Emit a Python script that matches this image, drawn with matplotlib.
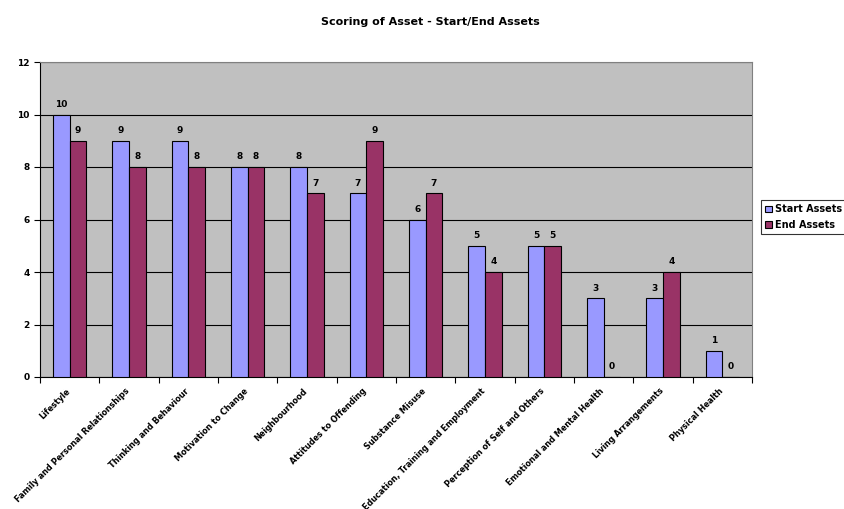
import numpy as np
import matplotlib.pyplot as plt
from matplotlib.transforms import ScaledTranslation

categories = ["Lifestyle", "Family and Personal Relationships", "Thinking and Behaviour",
              "Motivation to Change", "Neighbourhood", "Attitudes to Offending",
              "Substance Misuse", "Education, Training and Employment",
              "Perception of Self and Others", "Emotional and Mental Health",
              "Living Arrangements", "Physical Health"]
start_assets = [10, 9, 9, 8, 8, 7, 6, 5, 5, 3, 3, 1]
end_assets = [9, 8, 8, 8, 7, 9, 7, 4, 5, 0, 4, 0]

fig = plt.figure(figsize=(8.44, 5.09), dpi=100)
ax = fig.add_axes([40 / 844, 1 - 377 / 509, 712 / 844, 315 / 509])
ax.set_facecolor("#C0C0C0")

x = np.arange(len(categories))
w = 0.28
b1 = ax.bar(x - w / 2, start_assets, w, color="#9999FF", edgecolor="black", linewidth=0.8,
            label="Start Assets", zorder=3)
b2 = ax.bar(x + w / 2, end_assets, w, color="#993366", edgecolor="black", linewidth=0.8,
            label="End Assets", zorder=3)
for bars in (b1, b2):
    ax.bar_label(bars, padding=4, fontsize=6.5, fontweight="bold")

ax.set_xlim(-0.5, len(categories) - 0.5)
ax.set_ylim(0, 12)
ax.set_yticks(range(0, 13, 2))
ax.yaxis.grid(True, color="black", linewidth=0.8, zorder=1)
ax.set_xticks(x)
ax.set_xticklabels(categories, rotation=45, ha="right", rotation_mode="anchor",
                   fontsize=5.9, fontweight="bold")
ax.tick_params(axis="x", length=0, pad=6)
shift = ScaledTranslation(-4 / 100, -1 / 100, fig.dpi_scale_trans)
for lab in ax.get_xticklabels():
    lab.set_transform(lab.get_transform() + shift)
ax.set_xticks(np.arange(-0.5, len(categories)), minor=True)
ax.tick_params(axis="x", which="minor", length=4, width=0.8)
ax.tick_params(axis="y", length=4, width=0.8, labelsize=6.5)
for lab in ax.get_yticklabels():
    lab.set_fontweight("bold")

for s in ("top", "right"):
    ax.spines[s].set_color("#808080")
for s in ("left", "bottom"):
    ax.spines[s].set_color("black")

fig.suptitle("Scoring of Asset - Start/End Assets", x=430 / 844, y=1 - 22 / 509, va="center",
             fontsize=8, fontweight="bold")

leg = fig.legend(handles=[b1, b2], loc="upper left", bbox_to_anchor=(761 / 844, 1 - 200 / 509),
                 prop={"weight": "bold", "size": 7}, frameon=True, fancybox=False,
                 edgecolor="black", handlelength=0.7, handleheight=0.7, handletextpad=0.3,
                 borderpad=0.45, labelspacing=0.55, borderaxespad=0)
leg.get_frame().set_linewidth(0.8)

fig.savefig("out.png", dpi=100)
